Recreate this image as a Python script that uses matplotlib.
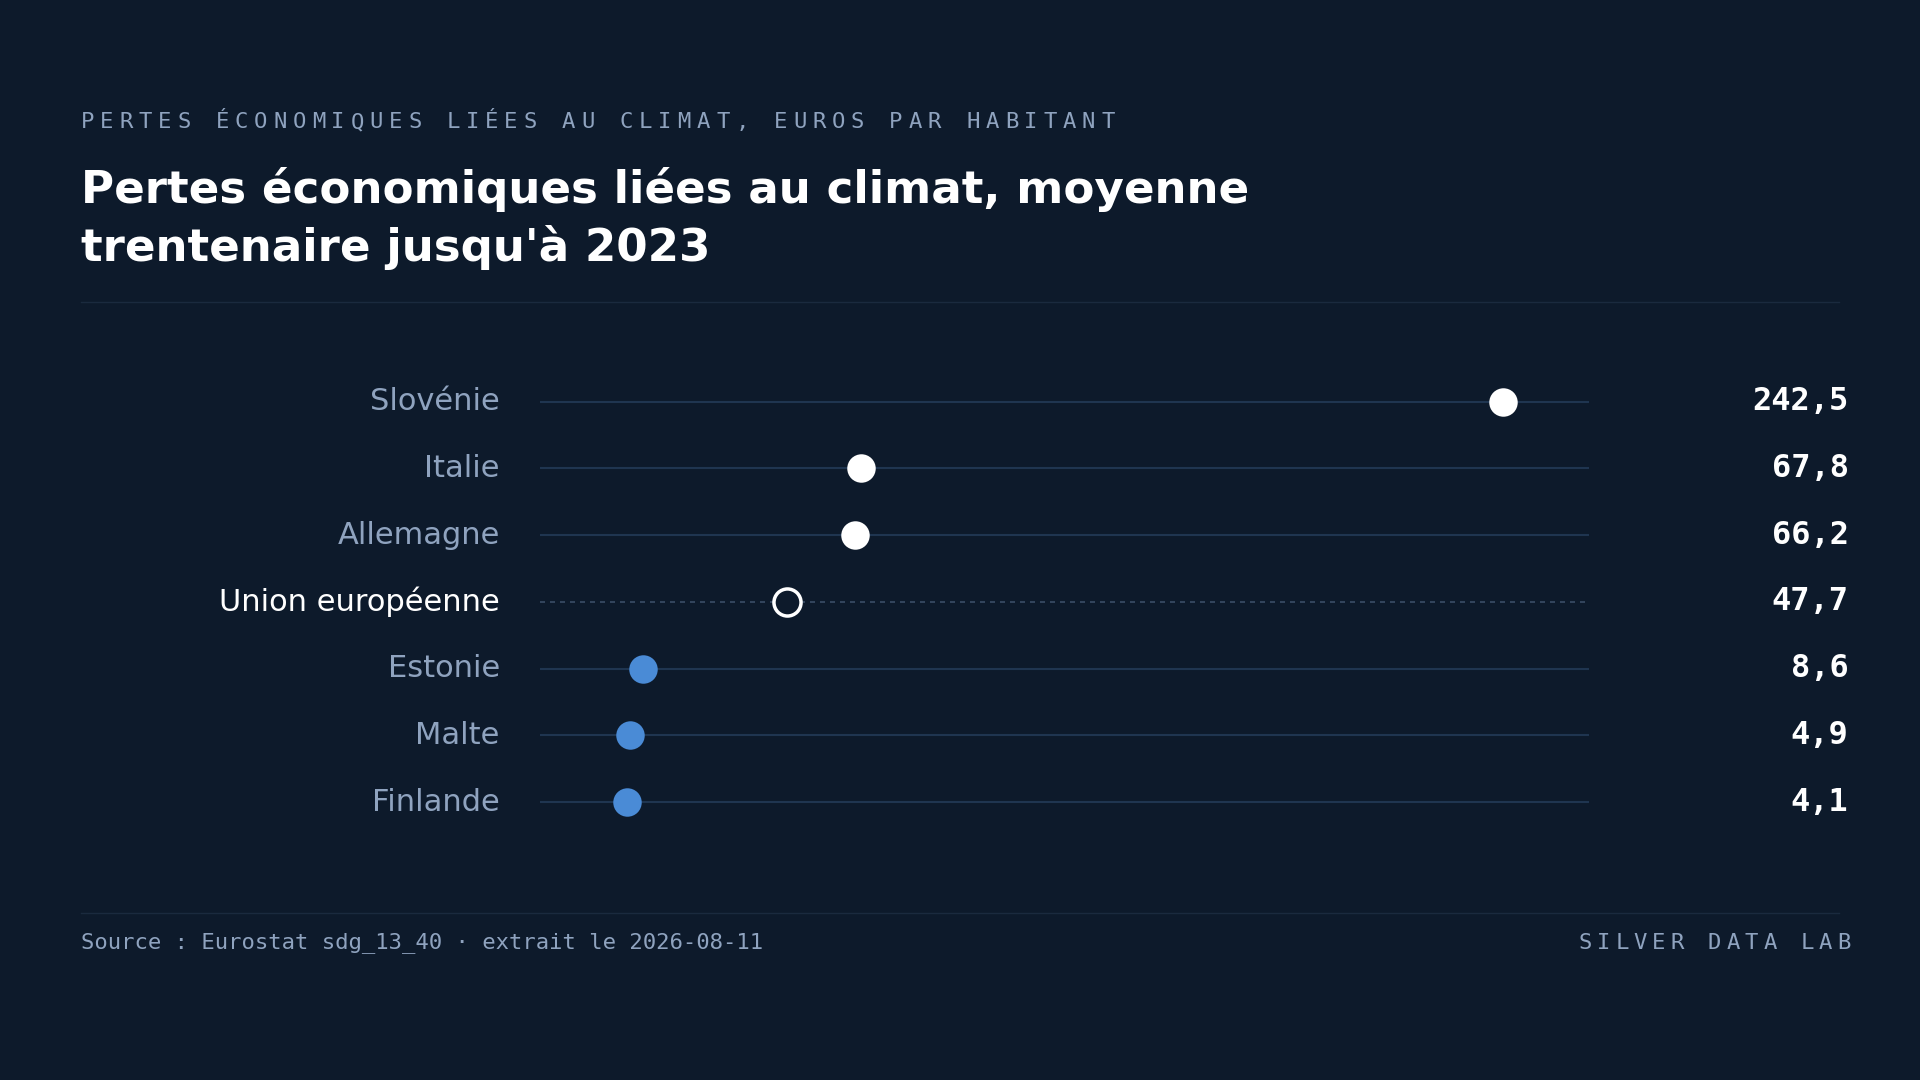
import matplotlib
matplotlib.use("Agg")
import matplotlib.pyplot as plt

countries = ["Slovénie", "Italie", "Allemagne", "Union européenne", "Estonie", "Malte", "Finlande"]
values = [242.5, 67.8, 66.2, 47.7, 8.6, 4.9, 4.1]
value_labels = ["242,5", "67,8", "66,2", "47,7", "8,6", "4,9", "4,1"]
kinds = ["high", "high", "high", "eu", "low", "low", "low"]

BG = "#0d1a2b"
GRID = "#1f3550"
MUTED = "#8fa3bf"
BLUE = "#4a8bd6"

W, H = 1568, 882
fig = plt.figure(figsize=(19.2, 10.8), dpi=100)
fig.patch.set_facecolor(BG)

def fx(x): return x / W
def fy(y): return 1 - y / H

def spaced(text, x, y, pitch, **kw):
    for i, ch in enumerate(text):
        fig.text(fx(x + i * pitch), fy(y), ch, va="center", ha="left", **kw)

spaced("PERTES ÉCONOMIQUES LIÉES AU CLIMAT, EUROS PAR HABITANT", 66, 100, 15.72,
       family="DejaVu Sans Mono", fontsize=16, color=MUTED)
fig.text(fx(66), fy(155), "Pertes économiques liées au climat, moyenne", fontsize=32.5,
         weight="bold", color="white", va="center")
fig.text(fx(66), fy(202), "trentenaire jusqu'à 2023", fontsize=32.5,
         weight="bold", color="white", va="center")
for yy in (247, 746):
    fig.add_artist(plt.Line2D([fx(66), fx(1502)], [fy(yy), fy(yy)], color="#1a2a3e", lw=1))

ax = fig.add_axes([fx(441), fy(682.3), fx(1298 - 441), (682.3 - 300.7) / H])
ax.set_facecolor(BG)
ax.set_xlim(-19.57, 266.1)
ax.set_ylim(len(countries) - 0.5, -0.5)
ax.axis("off")

for i, (c, v, lab, k) in enumerate(zip(countries, values, value_labels, kinds)):
    if k == "eu":
        ax.plot([-19.57, 266.1], [i, i], color="#3a4d66", lw=1.2, ls=(0, (3, 3)), zorder=1)
        ax.scatter([v], [i], s=380, facecolor=BG, edgecolor="white", linewidth=2.5, zorder=3)
        lc = "white"
    else:
        ax.plot([-19.57, 266.1], [i, i], color=GRID, lw=1.5, zorder=1)
        ax.scatter([v], [i], s=420, color="white" if k == "high" else BLUE, zorder=3, lw=0)
        lc = MUTED
    ax.text(-30.5, i, c, ha="right", va="center", fontsize=22, color=lc, clip_on=False)
    ax.text(1.247, i, lab, transform=ax.get_yaxis_transform(), ha="right", va="center",
            fontsize=23, weight="bold", family="DejaVu Sans Mono", color="white")

fig.text(fx(66), fy(770), "Source : Eurostat sdg_13_40 · extrait le 2026-08-11",
         family="DejaVu Sans Mono", fontsize=16, color=MUTED, va="center")
spaced("SILVER DATA LAB", 1289, 770, 15.1, family="DejaVu Sans Mono", fontsize=16, color=MUTED)

fig.savefig("out.png", dpi=100, facecolor=BG)
